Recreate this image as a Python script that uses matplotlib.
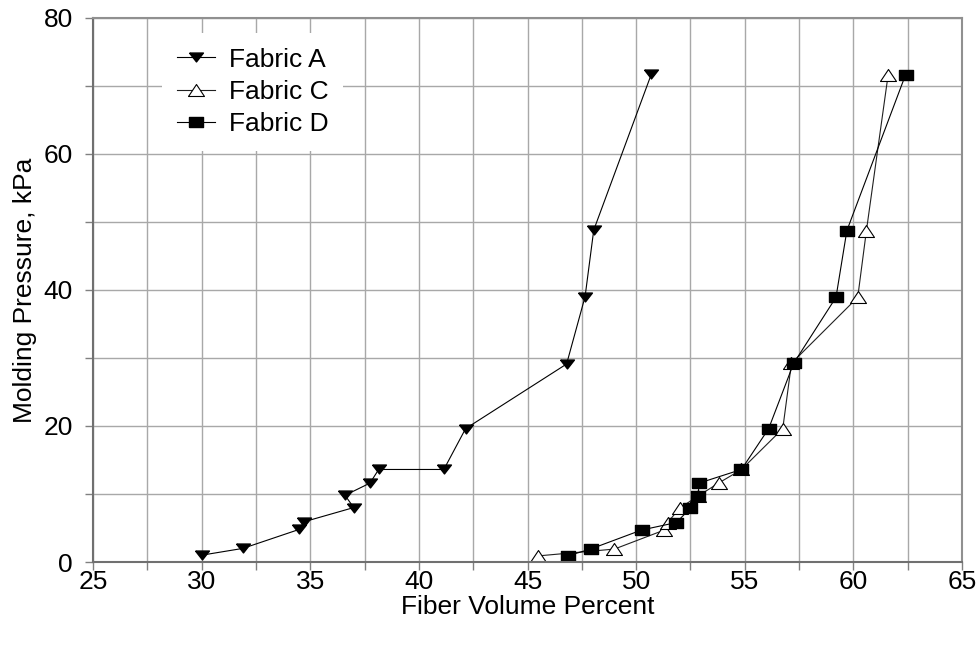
import numpy as np
import matplotlib
matplotlib.use("Agg")
from matplotlib import pyplot as plt

plt.rcParams['font.family'] = ['Liberation Sans', 'DejaVu Sans']

# Fabric A (fiber volume %, molding pressure kPa)
fabric_a_x = [30.0, 31.9, 34.5, 34.7, 37.0, 36.6, 37.75, 38.15, 41.15, 42.15, 46.8, 47.65, 48.05, 50.7]
fabric_a_y = [1.0, 2.0, 4.8, 5.9, 8.0, 9.8, 11.6, 13.6, 13.6, 19.6, 29.1, 39.0, 48.8, 71.7]

# Fabric C
fabric_c_x = [45.5, 49.0, 51.3, 51.45, 52.0, 52.85, 53.8, 54.85, 56.75, 57.15, 60.2, 60.6, 61.6]
fabric_c_y = [0.9, 1.9, 4.7, 5.8, 7.9, 9.7, 11.6, 13.6, 19.6, 29.2, 38.9, 48.7, 71.6]

# Fabric D
fabric_d_x = [46.85, 47.9, 50.25, 51.85, 52.5, 52.85, 52.9, 54.85, 56.1, 57.25, 59.2, 59.7, 62.4]
fabric_d_y = [0.9, 1.9, 4.7, 5.8, 7.9, 9.7, 11.6, 13.6, 19.6, 29.2, 38.9, 48.7, 71.6]

x_ticks = [25, 30, 35, 40, 45, 50, 55, 60, 65]
y_ticks = [0, 20, 40, 60, 80]

# flattened marker shapes
tri_down = [(-1, 0.64), (1, 0.64), (0, -0.64), (-1, 0.64)]
tri_up = [(-1, -0.75), (1, -0.75), (0, 0.75), (-1, -0.75)]
rect = [(-1, -0.72), (1, -0.72), (1, 0.72), (-1, 0.72), (-1, -0.72)]

fs = 19

fig = plt.figure(figsize=(9.76, 6.48), dpi=100)
ax = fig.add_axes([93 / 976, 1 - 562 / 648, (962 - 93) / 976, (562 - 17.7) / 648])

ax.plot(fabric_a_x, fabric_a_y, color='black', lw=0.8, marker=tri_down, ms=10,
        mfc='black', mec='black', label='Fabric A')
ax.plot(fabric_c_x, fabric_c_y, color='#202020', lw=0.8, marker=tri_up, ms=11.5,
        mfc='white', mec='black', mew=0.8, label='Fabric C')
ax.plot(fabric_d_x, fabric_d_y, color='black', lw=0.8, marker=rect, ms=9.5,
        mfc='black', mec='black', label='Fabric D')

ax.set_xlim(25, 65)
ax.set_ylim(0, 80)
ax.set_xticks(x_ticks)
ax.set_xticks(np.arange(27.5, 65, 5), minor=True)
ax.set_yticks(y_ticks)
ax.set_yticks([10, 30, 50, 70], minor=True)

ax.grid(True, which='both', color='#a8a8a8', lw=1.0)
ax.set_axisbelow(True)

for side in ['top', 'right']:
    ax.spines[side].set_color('#909090')
    ax.spines[side].set_linewidth(1.5)
for side in ['left', 'bottom']:
    ax.spines[side].set_color('#707070')
    ax.spines[side].set_linewidth(1.5)

ax.tick_params(which='both', direction='out', length=5.5, width=1.0, color='#808080',
               labelsize=fs, labelcolor='black')
ax.tick_params(axis='x', pad=0)
ax.tick_params(axis='y', pad=9)

ax.set_xlabel('Fiber Volume Percent', fontsize=fs, labelpad=1)
ax.set_ylabel('Molding Pressure, kPa', fontsize=fs, labelpad=5)

leg = ax.legend(loc='upper left', bbox_to_anchor=(162 / 976, 1 - 33 / 648),
                bbox_transform=fig.transFigure, borderaxespad=0, borderpad=0.55,
                fontsize=fs, handlelength=1.45, handletextpad=0.55, labelspacing=0.32,
                frameon=True, fancybox=False, framealpha=1.0)
leg.get_frame().set_edgecolor('none')
leg.get_frame().set_facecolor('white')

fig.savefig('out.png', dpi=100)
